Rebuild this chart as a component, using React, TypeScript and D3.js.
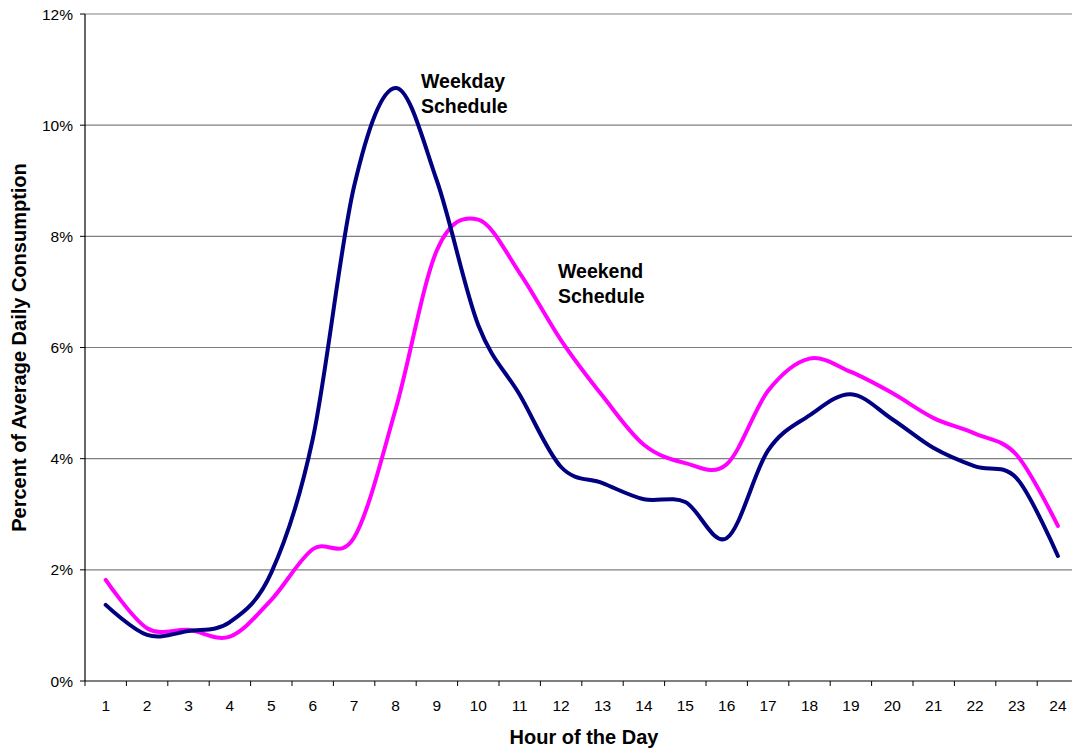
import React from "react";
import * as d3 from "d3";

const hours = [1,2,3,4,5,6,7,8,9,10,11,12,13,14,15,16,17,18,19,20,21,22,23,24];
const weekday = [1.37,0.83,0.9,1.06,1.95,4.35,8.9,10.67,9.0,6.4,5.15,3.85,3.56,3.27,3.22,2.57,4.15,4.78,5.16,4.71,4.19,3.86,3.65,2.25];
const weekend = [1.82,0.95,0.92,0.8,1.46,2.37,2.58,4.88,7.75,8.3,7.34,6.13,5.13,4.25,3.92,3.9,5.22,5.8,5.56,5.18,4.73,4.45,4.07,2.79];
const yTicks = [0,2,4,6,8,10,12];

const W = 1072, H = 750;
const L = 85, R = 1078.6, T = 14, B = 681;
const font = "'Liberation Sans', Arial, sans-serif";

export default function App() {
  const x = d3.scaleBand<number>().domain(hours).range([L, R]);
  const y = d3.scaleLinear().domain([0, 12]).range([B, T]);
  const cx = (h: number) => (x(h) as number) + x.bandwidth() / 2;
  const line = d3.line<number>().x((_, i) => cx(hours[i])).y(d => y(d)).curve(d3.curveCardinal.tension(0));
  const boundaries = d3.range(hours.length + 1).map(i => L + i * x.bandwidth());
  return (
    <svg width={W} height={H} style={{ position: "absolute", left: 0, top: 0, background: "#fff" }} fontFamily={font}>
      {yTicks.map(t => (
        <g key={t}>
          {t > 0 && <line x1={L} x2={R} y1={y(t)} y2={y(t)} stroke="#808080" strokeWidth={1.2} />}
          <line x1={L - 5} x2={L} y1={y(t)} y2={y(t)} stroke="#000" />
          <text x={L - 12} y={y(t)} dy="0.36em" textAnchor="end" fontSize={15.5}>{t}%</text>
        </g>
      ))}
      <line x1={L} x2={L} y1={T} y2={B} stroke="#000" strokeWidth={1.2} />
      <line x1={L} x2={R} y1={B} y2={B} stroke="#000" strokeWidth={1.2} />
      {boundaries.map((b, i) => (
        <line key={i} x1={b} x2={b} y1={B} y2={B + 5} stroke="#000" />
      ))}
      {hours.map(h => (
        <text key={h} x={cx(h)} y={710.5} textAnchor="middle" fontSize={15.5}>{h}</text>
      ))}
      <path d={line(weekend) || ""} fill="none" stroke="#FF00FF" strokeWidth={4} strokeLinejoin="round" strokeLinecap="round" />
      <path d={line(weekday) || ""} fill="none" stroke="#000080" strokeWidth={4} strokeLinejoin="round" strokeLinecap="round" />
      <text x={421} y={88.3} fontSize={19.5} fontWeight="bold">Weekday</text>
      <text x={421} y={112.7} fontSize={19.5} fontWeight="bold">Schedule</text>
      <text x={558} y={278.3} fontSize={19.5} fontWeight="bold">Weekend</text>
      <text x={558} y={303.3} fontSize={19.5} fontWeight="bold">Schedule</text>
      <text x={584} y={743.5} textAnchor="middle" fontSize={20} fontWeight="bold">Hour of the Day</text>
      <text transform={`translate(25.5,${(T + B) / 2}) rotate(-90)`} textAnchor="middle" fontSize={20} fontWeight="bold">Percent of Average Daily Consumption</text>
    </svg>
  );
}
